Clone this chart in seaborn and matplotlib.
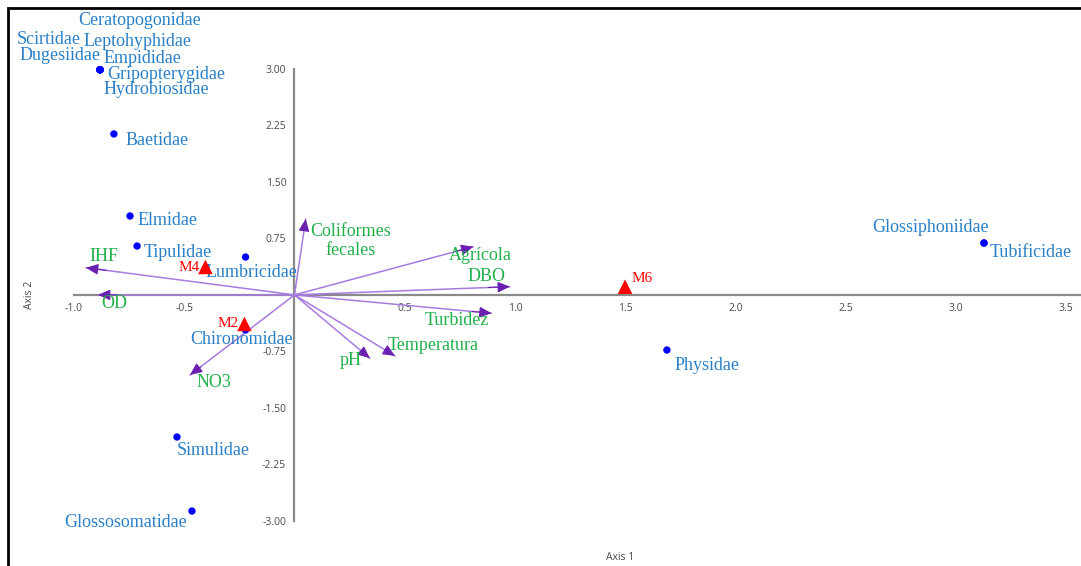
import numpy as np
import pandas as pd
import seaborn as sns
import matplotlib.pyplot as plt
from matplotlib.patches import Rectangle

# especies (puntos azules)
species = ['Ceratopogonidae', 'Scirtidae', 'Leptohyphidae', 'Dugesiidae', 'Empididae',
           'Gripopterygidae', 'Hydrobiosidae', 'Baetidae', 'Elmidae', 'Tipulidae',
           'Lumbricidae', 'Chironomidae', 'Simulidae', 'Glossosomatidae', 'Physidae',
           'Glossiphoniidae', 'Tubificidae']
sp_x = [-0.882, -0.882, -0.882, -0.882, -0.882, -0.882, -0.882, -0.819, -0.746, -0.714,
        -0.222, -0.222, -0.533, -0.465, 1.689, 3.127, 3.127]
sp_y = [2.99, 2.99, 2.99, 2.99, 2.99, 2.99, 2.99, 2.137, 1.048, 0.649,
        0.503, -0.466, -1.887, -2.87, -0.732, 0.689, 0.689]

# sitios (triangulos rojos)
sites = ['M4', 'M2', 'M6']
site_x = [-0.404, -0.227, 1.499]
site_y = [0.371, -0.386, 0.109]

# variables ambientales (flechas)
env = ['IHF', 'OD', 'NO3', 'Coliformes\nfecales', 'Agrícola', 'DBO', 'Turbidez',
       'Temperatura', 'pH']
env_x = [-0.946, -0.891, -0.474, 0.051, 0.811, 0.977, 0.894, 0.456, 0.342]
env_y = [0.361, 0.0, -1.064, 1.008, 0.640, 0.109, -0.244, -0.811, -0.842]

xticks = [-1.0, -0.5, 0.5, 1.0, 1.5, 2.0, 2.5, 3.0, 3.5]
yticks = [3.00, 2.25, 1.50, 0.75, -0.75, -1.50, -2.25, -3.00]

# desplazamientos de etiquetas en pixeles (dx, dy, ha)
sp_off = [(-22, 49, 'left'), (-83, 30, 'left'), (-17, 28, 'left'), (-81, 14, 'left'),
          (3, 11, 'left'), (7, -5, 'left'), (3, -20, 'left'), (12, -7, 'left'),
          (8, -5, 'left'), (7, -6, 'left'), (-40, -15, 'left'), (-55, -10, 'left'),
          (0, -13, 'left'), (-5, -11, 'right'), (8, -15, 'left'), (5, 16, 'right'),
          (6, -9, 'left')]
site_off = [(-6, -1, 'right'), (-6, 0, 'right'), (7, 8, 'left')]
env_off = [(3, 11, 'left'), (3, -9, 'left'), (7, -7, 'left'), (45, -22, 'center'),
           (-24, -9, 'left'), (-42, 10, 'left'), (-67, -7, 'left'), (-7, 10, 'left'),
           (-30, -2, 'left')]

sp_df = pd.DataFrame({'x': sp_x, 'y': sp_y, 'name': species})
site_df = pd.DataFrame({'x': site_x, 'y': site_y, 'name': sites})

sns.set_style('white')
plt.rcParams['font.family'] = ['Liberation Serif', 'DejaVu Serif']

fig = plt.figure(figsize=(10.81, 5.66), dpi=100)
ax = fig.add_axes([0, 0, 1, 1])
ax.set_xlim(-1.3356, 3.5669)
ax.set_ylim(-3.600, 3.916)

axis_col = '#8a8a8a'
for s in ['top', 'right']:
    ax.spines[s].set_visible(False)
ax.spines['left'].set_position(('data', 0))
ax.spines['bottom'].set_position(('data', 0))
ax.spines['left'].set_bounds(-3.0, 3.0)
ax.spines['bottom'].set_bounds(-1.0, 3.6)
for s in ['left', 'bottom']:
    ax.spines[s].set_color(axis_col)
    ax.spines[s].set_linewidth(1.6)
    ax.spines[s].set_zorder(1)

ax.set_xticks(xticks)
ax.set_xticklabels(['%.1f' % t for t in xticks])
ax.set_yticks(yticks)
ax.set_yticklabels(['%.2f' % t for t in yticks])
ax.tick_params(axis='both', direction='out', length=4, width=1.2, color='#555555',
               labelsize=7.5, labelcolor='#4a4a4a', pad=2)
for lab in ax.get_xticklabels() + ax.get_yticklabels():
    lab.set_family('Open Sans')

# flechas
line_col = '#a77be0'
head_col = '#6a1fb0'
for i, name in enumerate(env):
    ax.plot([0, env_x[i]], [0, env_y[i]], color=line_col, lw=1.1, zorder=2)
    ax.annotate('', xy=(env_x[i], env_y[i]), xytext=(env_x[i] * 0.9, env_y[i] * 0.9),
                arrowprops=dict(arrowstyle='-|>,head_length=0.75,head_width=0.33',
                                color=head_col, lw=0.8, shrinkA=0, shrinkB=0), zorder=3)
    dx, dy, ha = env_off[i]
    ax.annotate(name, (env_x[i], env_y[i]), xytext=(dx, dy), textcoords='offset pixels',
                ha=ha, va='center', color='#22b04b', fontsize=13, linespacing=1.2)

sns.scatterplot(data=sp_df, x='x', y='y', color='#0000ff', s=28, edgecolor='none',
                ax=ax, zorder=4)
sns.scatterplot(data=site_df, x='x', y='y', color='#ff0000', marker='^', s=110,
                edgecolor='none', ax=ax, zorder=4)

for i, name in enumerate(species):
    dx, dy, ha = sp_off[i]
    ax.annotate(name, (sp_x[i], sp_y[i]), xytext=(dx, dy), textcoords='offset pixels',
                ha=ha, va='center', color='#2a80c8', fontsize=13)
for i, name in enumerate(sites):
    dx, dy, ha = site_off[i]
    ax.annotate(name, (site_x[i], site_y[i]), xytext=(dx, dy), textcoords='offset pixels',
                ha=ha, va='center', color='#ff0000', fontsize=11)

ax.set_xlabel('')
ax.set_ylabel('')
fig.text(620 / 1081, 1 - 557 / 566, 'Axis 1', ha='center', va='center', fontsize=7.5,
         color='#4a4a4a', family='Open Sans')
fig.text(30 / 1081, 1 - 295 / 566, 'Axis 2', ha='center', va='center', fontsize=7.5,
         color='#4a4a4a', family='Open Sans', rotation=90)

# marco negro
fig.patches.append(Rectangle((8 / 1081, -0.05), 1.2, 1.05 - 8 / 566, transform=fig.transFigure,
                             fill=False, edgecolor='black', lw=2))

fig.savefig('out.png', dpi=100)
